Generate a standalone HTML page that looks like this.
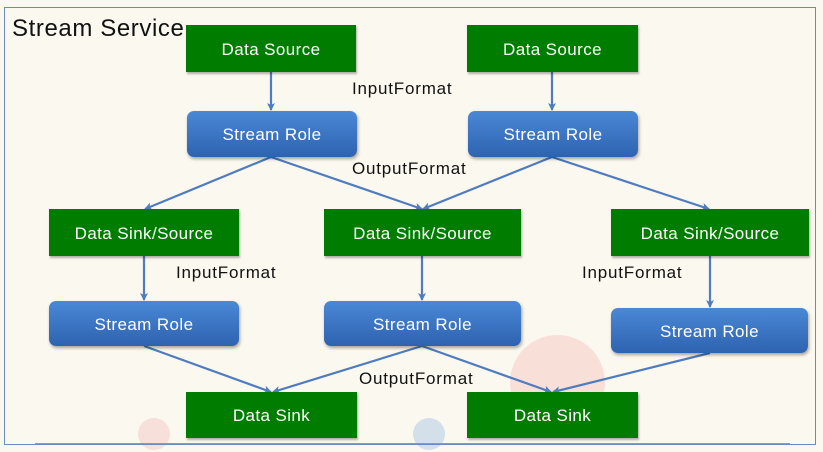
<!DOCTYPE html>
<html><head><style>
body{margin:0;width:823px;height:452px;background:#fbf8ef;overflow:hidden;position:relative;font-family:"Liberation Sans",sans-serif}
.f{position:absolute;border:1px solid #6f88c0;left:4px;top:7px;width:810px;height:436px}
.b{position:absolute;display:flex;align-items:center;justify-content:center;color:#fff;font-size:17px;letter-spacing:0.4px;padding-top:2px;box-sizing:border-box}
.g{background:#007d00;box-shadow:1px 2px 2px rgba(0,0,0,.3)}
.r{background:linear-gradient(#4a88d6,#2e63b0);border-radius:7px;box-shadow:1px 2px 3px rgba(0,0,0,.35)}
.t{position:absolute;font-size:17px;letter-spacing:0.8px;color:#111}
</style></head><body>
<div style="position:absolute;left:510px;top:335px;width:95px;height:95px;border-radius:50%;background:rgba(240,150,150,.25)"></div>
<div style="position:absolute;left:413px;top:418px;width:32px;height:32px;border-radius:50%;background:rgba(120,170,220,.3)"></div>
<div style="position:absolute;left:138px;top:418px;width:32px;height:32px;border-radius:50%;background:rgba(230,150,150,.25)"></div>
<div class="f"></div>
<div style="position:absolute;left:35px;top:443px;width:755px;height:1px;background:#999"></div>
<div class="t" style="left:12px;top:15px;font-size:24px;letter-spacing:0.6px">Stream Service</div>
<svg width="823" height="452" style="position:absolute;left:0;top:0">
<defs><marker id="a" markerWidth="8" markerHeight="8" refX="7" refY="4" orient="auto" markerUnits="userSpaceOnUse"><path d="M0,0 L8,4 L0,8 L2,4z" fill="#4f7bbf"/></marker></defs>
<g stroke="#4f7bbf" stroke-width="2.2" marker-end="url(#a)">
<line x1="271" y1="72" x2="271" y2="110"/>
<line x1="552" y1="72" x2="552" y2="110"/>
<line x1="271" y1="157" x2="145" y2="209"/>
<line x1="271" y1="157" x2="422" y2="209"/>
<line x1="552" y1="157" x2="423" y2="209"/>
<line x1="552" y1="157" x2="709" y2="209"/>
<line x1="144" y1="256" x2="144" y2="300"/>
<line x1="422" y1="256" x2="422" y2="300"/>
<line x1="710" y1="256" x2="710" y2="307"/>
<line x1="144" y1="346" x2="271" y2="392"/>
<line x1="422" y1="346" x2="273" y2="392"/>
<line x1="422" y1="346" x2="551" y2="392"/>
<line x1="710" y1="353" x2="553" y2="392"/>
</g></svg>
<div class="b g" style="left:186px;top:25px;width:170px;height:47px">Data Source</div>
<div class="b g" style="left:467px;top:25px;width:171px;height:47px">Data Source</div>
<div class="b r" style="left:187px;top:111px;width:170px;height:46px">Stream Role</div>
<div class="b r" style="left:468px;top:111px;width:170px;height:46px">Stream Role</div>
<div class="b g" style="left:49px;top:209px;width:190px;height:47px">Data Sink/Source</div>
<div class="b g" style="left:324px;top:209px;width:197px;height:47px">Data Sink/Source</div>
<div class="b g" style="left:611px;top:209px;width:198px;height:47px">Data Sink/Source</div>
<div class="b r" style="left:49px;top:301px;width:190px;height:45px">Stream Role</div>
<div class="b r" style="left:324px;top:301px;width:197px;height:45px">Stream Role</div>
<div class="b r" style="left:611px;top:308px;width:197px;height:45px">Stream Role</div>
<div class="b g" style="left:186px;top:392px;width:171px;height:46px">Data Sink</div>
<div class="b g" style="left:467px;top:392px;width:171px;height:46px">Data Sink</div>
<div class="t" style="left:352px;top:79px">InputFormat</div>
<div class="t" style="left:352px;top:159px">OutputFormat</div>
<div class="t" style="left:176px;top:263px">InputFormat</div>
<div class="t" style="left:582px;top:263px">InputFormat</div>
<div class="t" style="left:359px;top:369px">OutputFormat</div>
</body></html>
